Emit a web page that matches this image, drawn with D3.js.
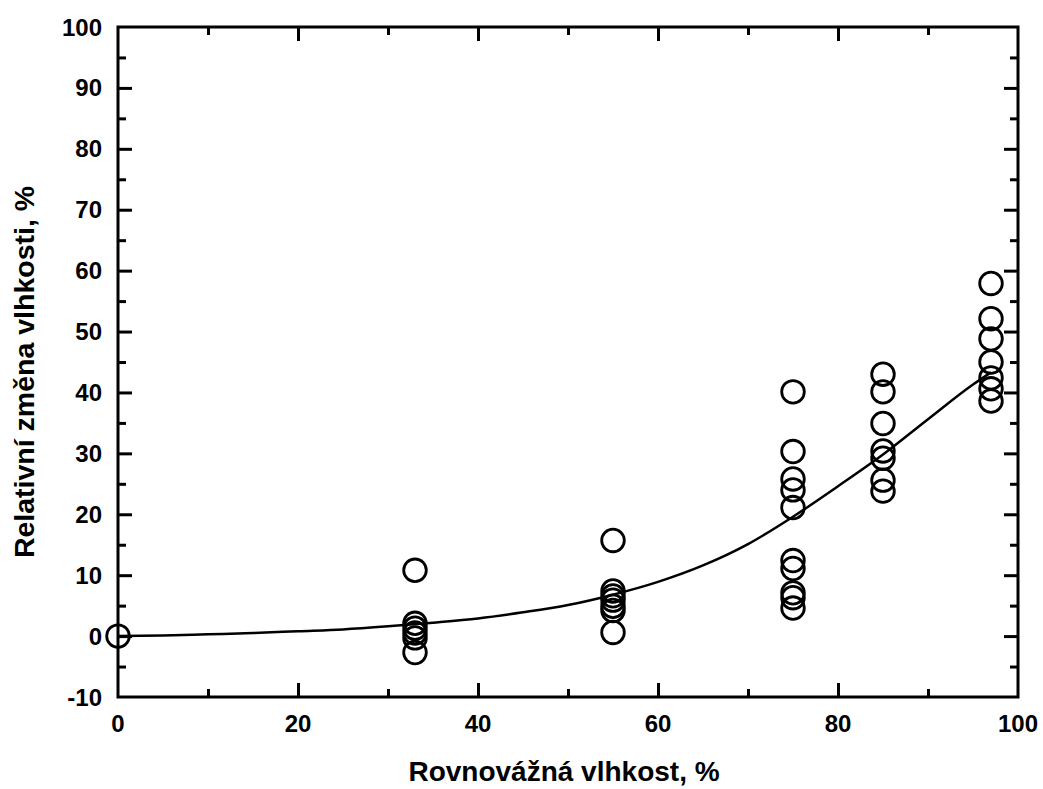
<!DOCTYPE html>
<html>
<head>
<meta charset="utf-8">
<script src="https://cdn.jsdelivr.net/npm/d3@7"></script>
<style>
body { margin: 0; background: #fff; }
text { font-family: "Liberation Sans", Arial, sans-serif; font-weight: bold; fill: #000; }
</style>
</head>
<body>
<script>
// namerene body (x = rovnovazna vlhkost, y = relativni zmena)
var pointX = [0,
	33, 33, 33, 33, 33, 33,
	55, 55, 55, 55, 55, 55, 55,
	75, 75, 75, 75, 75, 75, 75, 75, 75, 75,
	85, 85, 85, 85, 85, 85, 85,
	97, 97, 97, 97, 97, 97, 97];
var pointY = [0,
	10.8, 2.1, 1.3, 0.5, -0.3, -2.7,
	15.7, 7.4, 6.6, 5.9, 4.9, 4.2, 0.6,
	40.1, 30.3, 25.8, 24.0, 21.1, 12.4, 11.1, 7.1, 6.3, 4.6,
	43.0, 40.1, 34.9, 30.4, 29.2, 25.6, 23.8,
	57.9, 52.1, 48.8, 45.0, 42.4, 40.6, 38.6];

// prolozena krivka
var fitX = [0, 5, 10, 15, 20, 25, 30, 35, 40, 45, 50, 55, 60, 65, 70, 75, 80, 85, 90, 95, 97];
var fitY = [0, 0.1, 0.3, 0.5, 0.8, 1.1, 1.6, 2.2, 2.9, 3.9, 5.1, 6.8, 8.9, 11.6, 15.1, 19.6, 24.6, 29.8, 35.6, 41.3, 43.3];

var xTicks = [0, 20, 40, 60, 80, 100];
var yTicks = [-10, 0, 10, 20, 30, 40, 50, 60, 70, 80, 90, 100];

var config = {
	width: 1043,
	height: 789,
	left: 118,
	right: 1018,
	top: 27,
	bottom: 697,
	major: 14,
	minor: 8
};

var svg = d3.select("body")
	.append("svg")
	.attr("width", config.width)
	.attr("height", config.height);

var x = d3.scaleLinear().domain([0, 100]).range([config.left, config.right]);
var y = d3.scaleLinear().domain([-10, 100]).range([config.bottom, config.top]);

var xMinor = d3.range(10, 100, 20);
var yMinor = d3.range(-5, 100, 10);

// ramecek
svg.append("rect")
	.attr("x", config.left)
	.attr("y", config.top)
	.attr("width", config.right - config.left)
	.attr("height", config.bottom - config.top)
	.attr("fill", "none")
	.attr("stroke", "#000")
	.attr("stroke-width", 3);

function ticks(axisGen, scale, major, minor, tx, ty) {
	var g = svg.append("g").attr("transform", "translate(" + tx + "," + ty + ")");
	g.call(axisGen(scale).tickValues(major).tickSize(-config.major).tickFormat(""));
	var g2 = svg.append("g").attr("transform", "translate(" + tx + "," + ty + ")");
	g2.call(axisGen(scale).tickValues(minor).tickSize(-config.minor).tickFormat(""));
	[g, g2].forEach(function(s) {
		s.select(".domain").remove();
		s.selectAll("line").attr("stroke", "#000").attr("stroke-width", 3);
	});
}

ticks(d3.axisBottom, x, xTicks.slice(1, -1), xMinor, 0, config.bottom);
ticks(d3.axisTop, x, xTicks.slice(1, -1), xMinor, 0, config.top);
ticks(d3.axisLeft, y, yTicks.slice(1, -1), yMinor, config.left, 0);
ticks(d3.axisRight, y, yTicks.slice(1, -1), yMinor, config.right, 0);

// popisky
svg.append("g").selectAll("text")
	.data(xTicks)
	.enter().append("text")
	.attr("x", function(d) { return x(d); })
	.attr("y", config.bottom + 35)
	.attr("text-anchor", "middle")
	.style("font-size", "24px")
	.text(function(d) { return d; });

svg.append("g").selectAll("text")
	.data(yTicks)
	.enter().append("text")
	.attr("x", config.left - 16)
	.attr("y", function(d) { return y(d) + 8.5; })
	.attr("text-anchor", "end")
	.style("font-size", "24px")
	.text(function(d) { return d; });

svg.append("text")
	.attr("x", 564)
	.attr("y", 781)
	.attr("text-anchor", "middle")
	.style("font-size", "28px")
	.text("Rovnovážná vlhkost, %");

svg.append("text")
	.attr("transform", "translate(34,372) rotate(-90)")
	.attr("text-anchor", "middle")
	.style("font-size", "28.5px")
	.text("Relativní změna vlhkosti, %");

// krivka
var line = d3.line()
	.x(function(d) { return x(d[0]); })
	.y(function(d) { return y(d[1]); })
	.curve(d3.curveMonotoneX);

svg.append("path")
	.datum(d3.zip(fitX, fitY))
	.attr("d", line)
	.attr("fill", "none")
	.attr("stroke", "#000")
	.attr("stroke-width", 2.5);

// body
svg.append("g").selectAll("circle")
	.data(d3.zip(pointX, pointY))
	.enter().append("circle")
	.attr("cx", function(d) { return x(d[0]); })
	.attr("cy", function(d) { return y(d[1]); })
	.attr("r", 11.3)
	.attr("fill", "none")
	.attr("stroke", "#000")
	.attr("stroke-width", 2.8);
</script>
</body>
</html>
